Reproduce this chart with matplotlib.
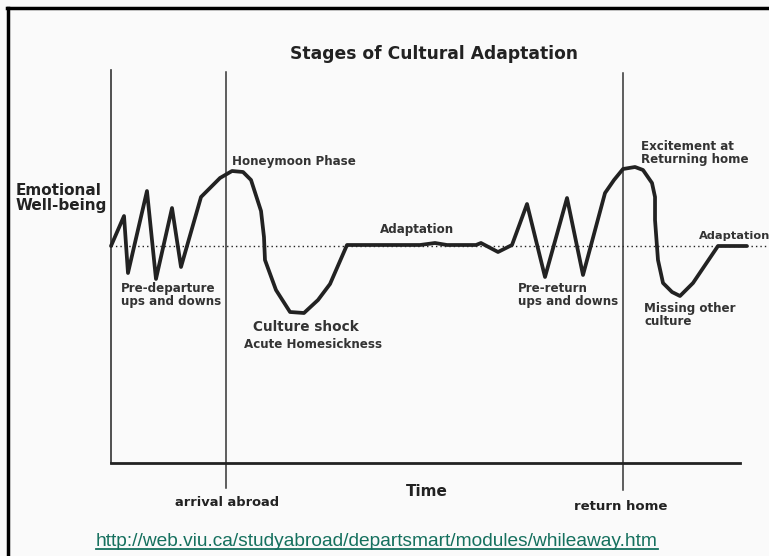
import matplotlib
matplotlib.use("Agg")
import matplotlib.pyplot as plt
from matplotlib.lines import Line2D

# Time (arbitrary units, 0-100 across the x-axis) and emotional well-being (0 = baseline)
time_pts = [0, 2.07, 2.70, 5.72, 7.15, 9.70, 11.13, 14.31, 17.33, 19.24, 20.99,
            22.26, 23.85, 24.32, 24.48, 26.23, 28.46, 30.68, 32.91, 34.82, 37.52,
            49.13, 51.51, 53.42, 58.03, 58.82, 61.53, 63.75, 66.14, 69.00, 72.50,
            75.04, 78.54, 79.97, 81.40, 83.31, 84.58, 86.01, 86.49, 86.49, 86.96,
            87.76, 89.19, 90.46, 92.53, 96.50, 101.1]
wellbeing = [0, 3.0, -2.7, 5.5, -3.3, 3.8, -2.1, 4.9, 6.8, 7.5, 7.4,
             6.6, 3.5, 0.9, -1.4, -4.4, -6.6, -6.7, -5.4, -3.8, 0.1,
             0.1, 0.3, 0.1, 0.1, 0.3, -0.6, 0.1, 4.2, -3.1, 4.8,
             -2.9, 5.3, 6.6, 7.7, 7.9, 7.6, 6.3, 4.9, 2.6, -1.4,
             -3.7, -4.6, -5.0, -3.7, 0.0, 0.0]

arrival_t = 18.28
return_t = 81.40

# stage labels: (text, t, w, fontsize)
stage_labels = [
    ("Honeymoon Phase", 19.24, 8.4, 8.6),
    ("Adaptation", 42.77, 1.6, 8.6),
    ("Excitement at\nReturning home", 84.26, 9.3, 8.6),
    ("Adaptation", 93.5, 1.0, 8.2),
    ("Pre-departure\nups and downs", 1.59, -4.9, 8.6),
    ("Culture shock", 22.58, -8.1, 9.8),
    ("Acute Homesickness", 21.14, -9.9, 8.55),
    ("Pre-return\nups and downs", 64.7, -4.95, 8.6),
    ("Missing other\nculture", 84.74, -6.9, 8.6),
]

W, H = 769, 556
ink = "#222222"

fig = plt.figure(figsize=(W / 100, H / 100), dpi=100, facecolor="#fafafa")
ax = fig.add_axes([111 / W, 1 - 463 / H, (740 - 111) / W, (463 - 70) / H])
ax.set_facecolor("none")
ax.set_xlim(0, 100)
ax.set_ylim(-21.7, 17.6)
for s in ["top", "right"]:
    ax.spines[s].set_visible(False)
ax.spines["left"].set_linewidth(1.2)
ax.spines["left"].set_color("#333333")
ax.spines["bottom"].set_linewidth(2)
ax.spines["bottom"].set_color(ink)
ax.set_xticks([])
ax.set_yticks([])

# baseline
ax.plot([0, 104.6], [0, 0], color=ink, lw=1.0, ls=(0, (1, 2.2)), clip_on=False)

# arrival / return markers
ax.plot([arrival_t, arrival_t], [17.4, -24.2], color="#333333", lw=1.1, clip_on=False)
ax.plot([return_t, return_t], [17.3, -24.4], color="#333333", lw=1.1, clip_on=False)

# the curve
ax.plot(time_pts, wellbeing, color=ink, lw=2.7, solid_joinstyle="round",
        solid_capstyle="round", clip_on=False, zorder=3)

for txt, t, w, fs in stage_labels:
    ax.text(t, w, txt, ha="left", va="center", fontsize=fs, fontweight="bold",
            color="#333333", linespacing=1.0, clip_on=False)


def ftext(x, y, s, **kw):
    return fig.text(x / W, 1 - y / H, s, **kw)


ftext(434, 54, "Stages of Cultural Adaptation", ha="center", va="center",
      fontsize=12.3, fontweight="bold", color=ink)
ftext(16, 198, "Emotional\nWell-being", ha="left", va="center",
      fontsize=11, fontweight="bold", color=ink, linespacing=1.0)
ftext(427, 491, "Time", ha="center", va="center", fontsize=11,
      fontweight="bold", color=ink)
ftext(227, 503, "arrival abroad", ha="center", va="center", fontsize=9.4,
      fontweight="bold", color=ink)
ftext(621, 506, "return home", ha="center", va="center", fontsize=9.5,
      fontweight="bold", color=ink)
url = ftext(96, 541, "http://web.viu.ca/studyabroad/departsmart/modules/whileaway.htm",
            ha="left", va="center", fontsize=13.8, family="Liberation Sans",
            color="#15705e")

# frame
fig.add_artist(Line2D([7 / W, 1], [1 - 8 / H, 1 - 8 / H], color="black", lw=2.5))
fig.add_artist(Line2D([8 / W, 8 / W], [0, 1 - 8 / H], color="black", lw=2.5))

# underline the link
fig.canvas.draw()
bb = url.get_window_extent()
fig.add_artist(Line2D([bb.x0 / W, bb.x1 / W], [(bb.y0 + 1) / H, (bb.y0 + 1) / H],
                      color="#15705e", lw=1.3))

fig.savefig("out.png", dpi=100, facecolor=fig.get_facecolor())
